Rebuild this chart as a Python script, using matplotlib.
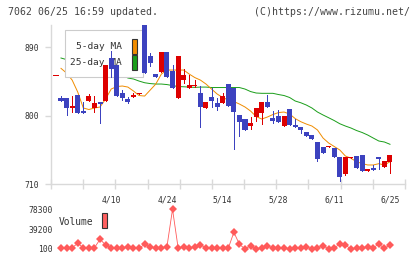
import numpy as np
import matplotlib
matplotlib.use("Agg")
import matplotlib.pyplot as plt
from matplotlib.patches import Rectangle

# daily candles (oldest first), prices in yen
opens = [823.4, 823.4, 810.2, 826.9, 806.0, 819.4, 810.0, 818.1, 819.4, 875.9,
         866.4, 829.6, 821.3, 824.7, 828.2, 918.9, 878.2, 854.5, 857.5, 883.0,
         858.9, 823.4, 846.6, 836.8, 838.8, 830.0, 809.5, 824.7, 816.0, 816.0,
         841.4, 836.0, 800.7, 795.4, 786.6, 798.0, 803.7, 817.7, 797.0, 799.3,
         786.0, 808.5, 786.9, 784.5, 778.0, 774.4, 765.2, 759.0, 758.6, 756.9,
         745.1, 723.1, 744.6, 747.2, 748.1, 727.5, 730.6, 745.1, 731.9, 739.3]
closes = [819.4, 809.5, 812.5, 802.9, 803.0, 825.6, 816.4, 815.1, 866.4, 861.1,
          825.6, 822.6, 818.4, 827.0, 830.2, 855.8, 868.6, 851.0, 883.0, 850.2,
          836.8, 878.2, 853.2, 840.1, 840.1, 811.6, 818.1, 819.4, 811.6, 825.6,
          812.9, 805.0, 791.9, 781.0, 790.5, 809.5, 817.7, 811.6, 793.0, 791.5,
          799.3, 787.5, 784.6, 781.0, 773.5, 769.0, 742.5, 751.1, 759.9, 745.1,
          719.2, 745.9, 745.9, 731.4, 727.5, 729.7, 728.8, 742.8, 740.2, 748.1]
highs = [825.6, 823.4, 825.6, 826.9, 818.1, 828.3, 826.3, 818.1, 866.4, 885.1,
         866.4, 833.5, 823.9, 830.0, 830.2, 918.9, 882.5, 854.5, 883.0, 883.0,
         866.4, 878.2, 860.7, 853.2, 846.6, 838.8, 818.1, 836.1, 822.6, 830.0,
         841.4, 836.0, 800.7, 795.4, 798.4, 809.5, 817.7, 827.0, 806.0, 807.0,
         799.3, 808.5, 795.4, 784.5, 778.0, 774.4, 765.2, 759.0, 759.9, 756.9,
         745.1, 745.9, 745.9, 747.2, 748.1, 729.7, 735.0, 745.1, 740.2, 748.1]
lows = [819.4, 800.7, 804.4, 802.9, 803.0, 819.4, 805.0, 789.8, 819.4, 850.6,
        825.6, 820.4, 816.0, 824.3, 828.2, 855.8, 865.0, 851.0, 857.5, 850.2,
        836.8, 823.4, 842.3, 836.8, 837.8, 785.3, 809.5, 811.2, 807.2, 816.0,
        812.9, 755.6, 773.0, 781.0, 782.0, 793.0, 788.8, 811.6, 789.8, 791.5,
        786.0, 787.5, 784.6, 777.4, 773.5, 769.0, 740.2, 751.1, 758.6, 745.1,
        714.3, 721.8, 744.6, 731.4, 727.5, 727.5, 728.4, 729.3, 731.9, 724.0]
prev_close = 853.2

ma5 = [862.0, 855.8, 846.6, 830.9, 809.9, 807.9, 809.9, 811.2, 821.7, 834.8,
       838.1, 838.8, 837.4, 832.2, 826.3, 825.6, 833.5, 841.4, 854.5, 859.8,
       859.8, 859.8, 859.8, 854.5, 849.9, 846.6, 841.4, 834.8, 828.3, 823.7,
       820.4, 818.4, 815.1, 811.2, 805.9, 798.7, 795.4, 798.0, 801.3, 803.9,
       804.6, 802.0, 796.0, 791.9, 788.8, 786.2, 781.0, 770.4, 763.9, 759.3,
       754.7, 746.8, 743.8, 739.3, 736.9, 735.0, 735.0, 736.7, 735.0, 739.3]
ma25 = [875.6, 873.5, 871.5, 869.5, 867.5, 865.5, 863.5, 861.5, 859.5, 857.5,
        855.5, 853.5, 849.3, 848.0, 845.3, 843.1, 842.0, 841.4, 841.4, 840.7,
        839.4, 838.1, 837.8, 837.4, 837.0, 837.4, 837.4, 836.8, 836.8, 836.8,
        836.8, 836.8, 836.8, 834.8, 831.5, 829.6, 829.2, 829.2, 829.2, 827.6,
        826.3, 823.7, 819.1, 816.8, 813.8, 809.9, 804.6, 800.7, 797.1, 793.4,
        789.2, 786.2, 783.6, 780.3, 777.7, 774.4, 770.4, 766.5, 765.2, 762.2]

volume = [2600, 2600, 2600, 11300, 2600, 2600, 2600, 19200, 8000, 2600,
          2600, 2600, 4600, 1500, 1500, 9400, 4600, 1500, 2600, 4600,
          78300, 2600, 4000, 1500, 4600, 8000, 2600, 1500, 1500, 2000,
          1500, 33000, 9400, 100, 6600, 100, 2600, 6600, 1500, 2600,
          2600, 100, 1500, 2600, 4600, 100, 2600, 6600, 100, 2600,
          9400, 8000, 100, 1500, 2600, 4600, 2600, 9900, 1500, 8000]

date_labels = ['4/10', '4/24', '5/14', '5/28', '6/11', '6/25']
date_pos = [9, 19, 29, 39, 49, 59]
price_ticks = [710, 800, 890]
vol_ticks = [100, 39200, 78300]

title = '7062 06/25 16:59 updated.'
credit = '(C)https://www.rizumu.net/'

UP = '#dd0000'
DOWN = '#3c42bf'
GRID = '#d9d9d9'
MONO = 'DejaVu Sans Mono'

W, H = 420, 259
fig = plt.figure(figsize=(W / 100, H / 100), dpi=100)


def fx(px):
    return px / W


def fy(py):
    return 1 - py / H


# pixel geometry of the candle slots
x_first, step = 61.0, 5.576
left, right = 51, 405
xlim = ((left - x_first) / step, (right - x_first) / step)

ax = fig.add_axes([fx(left), fy(184), (right - left) / W, (184 - 25) / H])
ax.set_xlim(xlim)
ax.set_ylim(710, 919)

idx = np.arange(len(closes))
o = np.array(opens)
c = np.array(closes)
colors = [UP if cc >= oo else DOWN for oo, cc in zip(o, c)]
body_lo = np.minimum(o, c)
body_h = np.maximum(np.abs(c - o), 1.3)

ax.plot(idx, ma25, color='#1a9e1a', lw=0.7, zorder=1)
ax.plot(idx, ma5, color='#f08c00', lw=0.7, zorder=1)

ax.vlines(idx, lows, highs, colors=colors, lw=0.72, zorder=3, antialiased=False)
ax.bar(idx, body_h, bottom=body_lo, width=0.9, color=colors, lw=0, zorder=3,
       antialiased=False)
ax.hlines(prev_close, -1.45, -0.55, colors=UP, lw=0.72, zorder=3, antialiased=False)

# legend box (drawn under the candles, over the average lines)
box = Rectangle((fx(65), fy(77)), fx(143) - fx(65), fy(30) - fy(77),
                transform=fig.transFigure, facecolor='white', edgecolor='#cccccc',
                lw=0.8, zorder=2, clip_on=False)
ax.add_patch(box)
for label, col, ty in [('5-day MA', '#f08c00', 46.7), ('25-day MA', '#1a9e1a', 62.2)]:
    ax.text(fx(122), fy(ty), label, transform=fig.transFigure, ha='right',
            va='center', family=MONO, size=6.8, color='#333333', zorder=2)
    ax.add_patch(Rectangle((fx(131.5), fy(ty + 7.5)), 5.8 / W, 15 / H,
                           transform=fig.transFigure, facecolor=col,
                           edgecolor='#333333', lw=0.8, zorder=2, clip_on=False))

for s in ['top', 'right']:
    ax.spines[s].set_visible(False)
for s in ['left', 'bottom']:
    ax.spines[s].set_color(GRID)
    ax.spines[s].set_linewidth(1.0)

ax.set_yticks(price_ticks)
ax.set_yticklabels([str(v) for v in price_ticks])
ax.tick_params(axis='y', direction='out', length=4.5, width=1.0, color=GRID,
               pad=4, labelsize=5.8, labelcolor='#333333')
ax.set_xticks(date_pos)
ax.set_xticklabels(date_labels)
ax.set_xticks(np.linspace(xlim[0], xlim[1], 12), minor=True)
ax.tick_params(axis='x', which='major', length=0, pad=8, labelsize=5.8,
               labelcolor='#333333')
ax.tick_params(axis='x', which='minor', direction='inout', length=6.5,
               width=1.0, color=GRID)
for t in ax.get_xticklabels() + ax.get_yticklabels():
    t.set_family(MONO)

# volume panel
v_top, v_bot = 200, 255
px_per = (249 - 209.3) / (78300 - 100)
v_lo = 100 - (v_bot - 249) / px_per
v_hi = 78300 + (209.3 - v_top) / px_per
axv = fig.add_axes([fx(left), fy(v_bot), (right - left) / W, (v_bot - v_top) / H])
axv.set_xlim(xlim)
axv.set_ylim(v_lo, v_hi)
axv.plot(idx, volume, color='#ff5a5a', lw=0.6, marker='D', ms=3.6,
         mec='#ff5a5a', mfc='#ff5a5a', mew=0)
for s in axv.spines.values():
    s.set_visible(False)
axv.set_xticks([])
axv.set_yticks(vol_ticks)
axv.set_yticklabels([str(v) for v in vol_ticks])
axv.tick_params(axis='y', length=0, pad=-1.4, labelsize=5.8, labelcolor='#333333')
for t in axv.get_yticklabels():
    t.set_family(MONO)
axv.patch.set_alpha(0)

fig.text(fx(59), fy(222.3), 'Volume', ha='left', va='center', family=MONO,
         size=6.9, color='#333333')
fig.patches.append(Rectangle((fx(101.5), fy(228.3)), 5.8 / W, 15 / H,
                             transform=fig.transFigure, facecolor='#ff6060',
                             edgecolor='#333333', lw=0.8))

fig.text(fx(8), fy(12.2), title, ha='left', va='center', family=MONO,
         size=7.1, color='#444444')
fig.text(fx(410), fy(12.2), credit, ha='right', va='center', family=MONO,
         size=7.1, color='#444444')

fig.savefig('out.png', dpi=100)
